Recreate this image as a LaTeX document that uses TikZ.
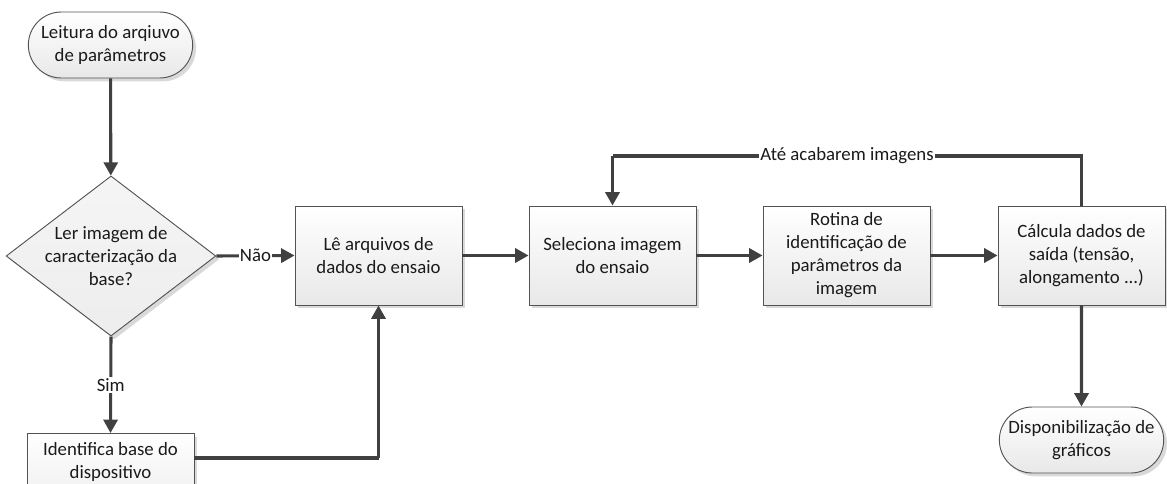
\documentclass[tikz,border=0pt]{standalone}
\usepackage{fontspec}
\setmainfont{Carlito}
\usetikzlibrary{shapes.geometric,shapes.misc,arrows.meta,shadows}
\definecolor{edge}{HTML}{404040}
\definecolor{txt}{HTML}{1A1A1A}
\tikzset{
  base/.style={draw=edge!90, line width=0.7pt, text=txt, align=center, font=\fontsize{14.1}{17.25}\selectfont,
    top color=white, bottom color=black!9,
    drop shadow={shadow xshift=2.5pt, shadow yshift=-2.5pt, fill=black!15, opacity=1}},
  procbox/.style={base, rectangle, minimum width=125.25pt, minimum height=74.25pt, inner sep=1pt},
  termbox/.style={base, rounded rectangle, minimum width=125.25pt, minimum height=49.5pt, inner sep=1pt},
  decbox/.style={base, diamond, aspect=1.31, minimum width=151.5pt, minimum height=115.5pt, inner sep=0pt,
    top color=black!4, bottom color=black!7},
  conn/.style={draw=edge, line width=2.3pt, -{Triangle[length=10pt,width=10.5pt]}},
  plainconn/.style={draw=edge, line width=2.3pt},
  lbl/.style={font=\fontsize{14.1}{16}\selectfont, text=txt, fill=white, inner sep=1pt},
}
\begin{document}
\begin{tikzpicture}[x=0.75pt,y=-0.75pt]
\useasboundingbox (0,0) rectangle (1167,483);
\clip (0,0) rectangle (1167,483);
\node[termbox] (start) at (110.5,45) {Leitura do arqiuvo\\de parâmetros};
\node[decbox] (dec) at (111,256) {Ler imagem de\\caracterização da\\base?};
\node[procbox] (le) at (378.5,255.5) {Lê arquivos de\\dados do ensaio};
\node[procbox] (sel) at (612.5,255.5) {Seleciona imagem\\do ensaio};
\node[procbox] (rot) at (846.5,255.5) {Rotina de\\identificação de\\parâmetros da\\imagem};
\node[procbox] (calc) at (1081.5,255.5) {Cálcula dados de\\saída (tensão,\\alongamento ...)};
\node[termbox] (disp) at (1081.5,440) {Disponibilização de\\gráficos};
\node[procbox, anchor=north] (ident) at (110.5,433) {Identifica base do\\dispositivo\\ \\ };
\coordinate (loopR) at (1081.5,156);
\coordinate (loopL) at (612.5,156);
\coordinate (bend) at (378.5,458);

\draw[conn] (start) -- (dec);
\draw[conn] (dec.east) -- node[lbl] {Não} (le.west);
\draw[conn] (dec.south) -- node[lbl, pos=0.5] {Sim} (ident.north);
\draw[conn] (le) -- (sel);
\draw[conn] (sel) -- (rot);
\draw[conn] (rot) -- (calc);
\draw[conn] (calc) -- (disp);
\draw[plainconn] (ident.east |- bend) -- (bend);
\draw[conn] (bend) -- (le.south);
\draw[plainconn] (calc.north) -- (loopR) -- node[lbl, pos=0.5] {Até acabarem imagens} (loopL);
\draw[conn] (loopL) -- (sel.north);
\end{tikzpicture}
\end{document}
